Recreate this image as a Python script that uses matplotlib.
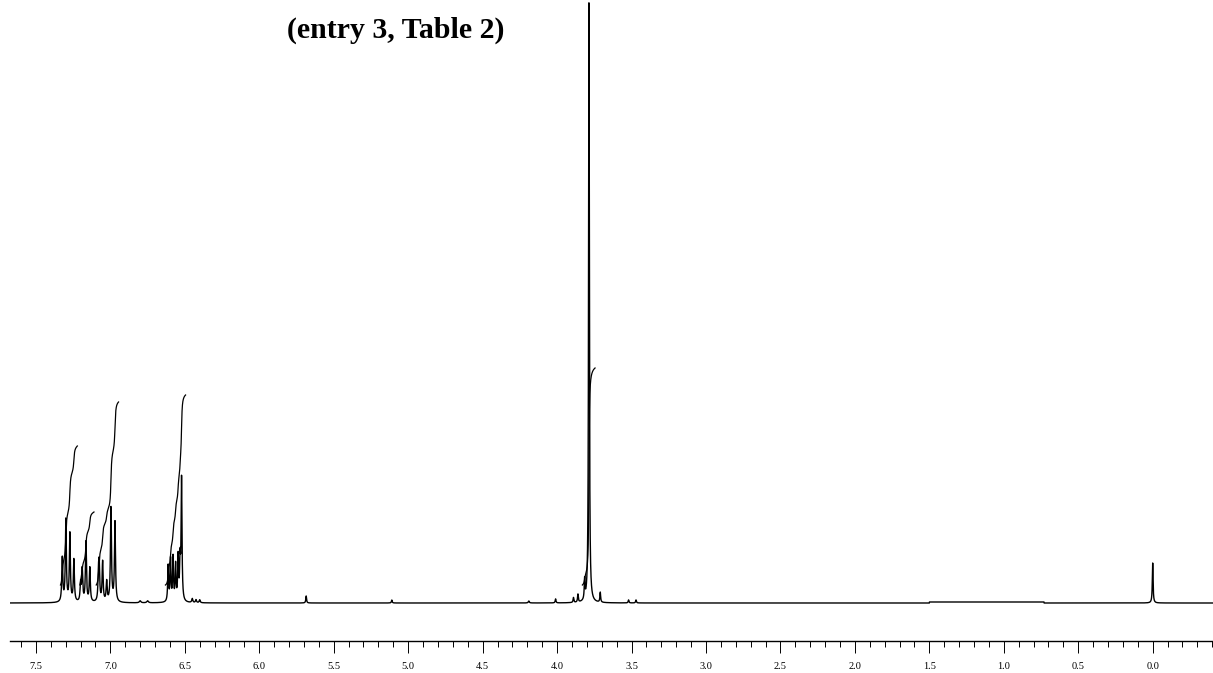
import numpy as np
import matplotlib
matplotlib.use("Agg")
from matplotlib import pyplot as plt
from matplotlib.ticker import MultipleLocator

# peak list: position (ppm), height (px above baseline), half width (ppm)
peak_ppm = [7.323, 7.299, 7.272, 7.245,
            7.200, 7.189, 7.164, 7.138,
            7.080, 7.075, 7.052, 7.025, 6.996, 6.969,
            6.612, 6.596, 6.579, 6.562, 6.545, 6.532, 6.522,
            6.80, 6.75, 6.45, 6.425, 6.40,
            5.685, 5.11, 4.19, 4.01, 3.89, 3.86, 3.815, 3.786, 3.71, 3.52, 3.47,
            0.0]
peak_height = [44, 82, 68, 42,
               18, 32, 60, 34,
               24, 34, 40, 20, 94, 80,
               36, 42, 44, 36, 44, 38, 122,
               2, 2, 4, 3, 3,
               7, 3, 2, 4, 5, 8, 20, 600, 10, 3, 3,
               40]
peak_width = [0.004, 0.004, 0.004, 0.004,
              0.004, 0.004, 0.004, 0.004,
              0.004, 0.004, 0.004, 0.004, 0.004, 0.004,
              0.0035, 0.0035, 0.0035, 0.0035, 0.0035, 0.0035, 0.0035,
              0.006, 0.006, 0.004, 0.004, 0.004,
              0.003, 0.003, 0.004, 0.003, 0.003, 0.003, 0.003, 0.003, 0.003, 0.003, 0.003,
              0.003]

# integral regions: start ppm, end ppm, final height (px above baseline)
int_start = [7.335, 7.205, 7.095, 6.630, 3.830]
int_end = [7.222, 7.110, 6.945, 6.495, 3.745]
int_top = [157, 91, 201, 208, 235]

# small baseline offset between 1.5 and 0.73 ppm
step_from, step_to, step_size = 1.50, 0.73, 1.0

major_ticks = [7.5, 7.0, 6.5, 6.0, 5.5, 5.0, 4.5, 4.0, 3.5, 3.0, 2.5, 2.0, 1.5, 1.0, 0.5, 0.0]

ppm = np.linspace(7.674, -0.405, 80000)
spec = np.zeros_like(ppm)
for p, h, w in zip(peak_ppm, peak_height, peak_width):
    spec += h * w ** 2 / ((ppm - p) ** 2 + w ** 2)
spec[(ppm <= step_from) & (ppm >= step_to)] += step_size

fig = plt.figure(figsize=(12.13, 6.73), dpi=100)
ax = fig.add_axes([10 / 1213, 30 / 673, 1203 / 1213, 643 / 673])
ax.plot(ppm, spec, color="black", lw=1.0)

# integral curves
for s, e, top in zip(int_start, int_end, int_top):
    m = (ppm <= s) & (ppm >= e)
    cs = np.cumsum(spec[m])
    curve = 18 + (top - 18) * cs / cs[-1]
    ax.plot(ppm[m], curve, color="black", lw=0.9)

ax.set_xlim(7.674, -0.405)
ax.set_ylim(-40, 603)
for s in ["top", "left", "right"]:
    ax.spines[s].set_visible(False)
ax.spines["bottom"].set_position(("data", -38))
ax.spines["bottom"].set_linewidth(1.0)
ax.set_yticks([])
ax.set_xticks(major_ticks)
ax.set_xticklabels([f"{t:.1f}" for t in major_ticks], fontfamily="Liberation Serif", fontsize=7.5)
ax.xaxis.set_minor_locator(MultipleLocator(0.1))
ax.tick_params(axis="x", which="major", length=8.5, width=0.7, pad=6.5)
ax.tick_params(axis="x", which="minor", length=4, width=0.7)

fig.text(396 / 1213, 1 - 30 / 673, "(entry 3, Table 2)", ha="center", va="center",
         fontfamily="Liberation Serif", fontweight="bold", fontsize=21.5)

fig.savefig("out.png", dpi=100)
